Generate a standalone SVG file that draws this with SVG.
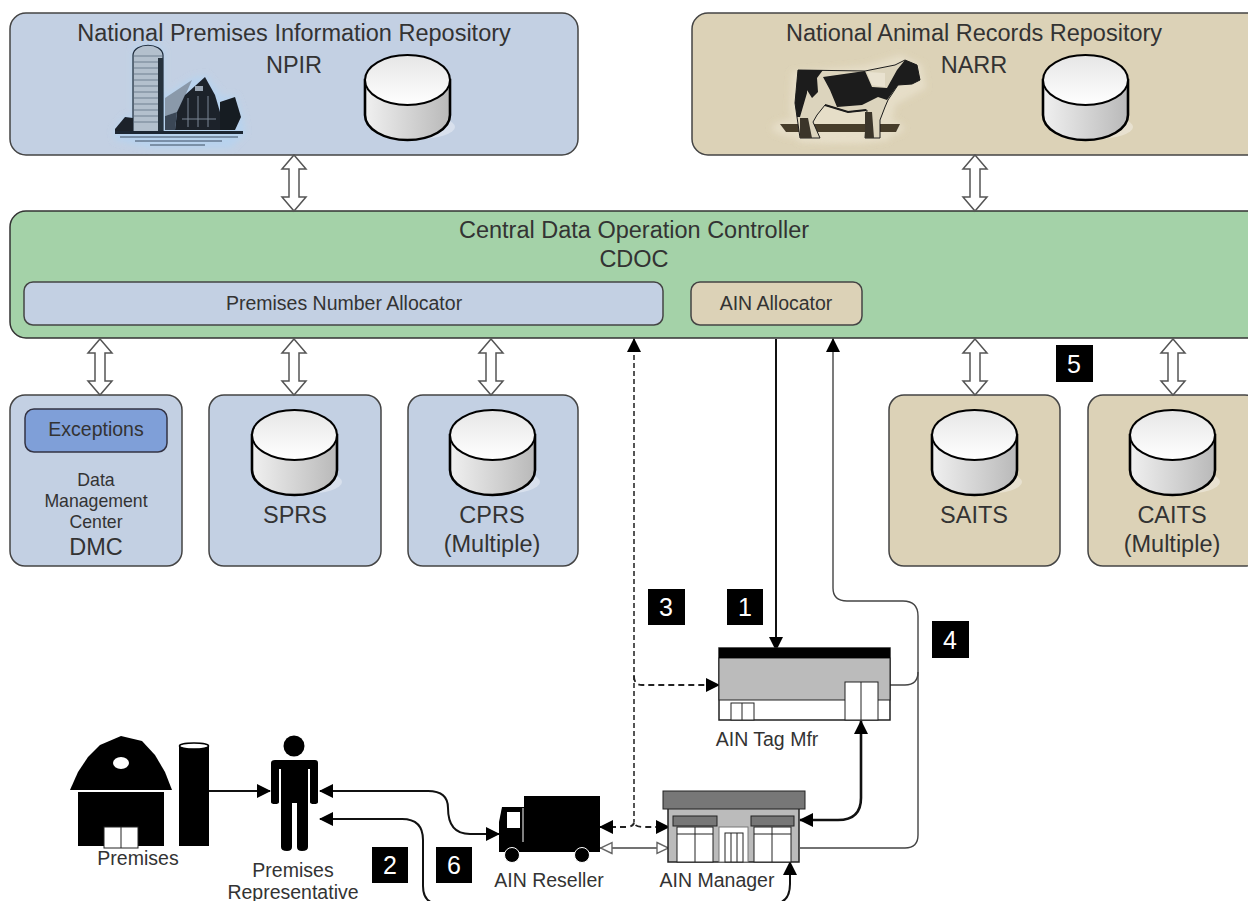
<svg xmlns="http://www.w3.org/2000/svg" width="1248" height="901" viewBox="0 0 1248 901">
<style>
text{font-family:"Liberation Sans",Arial,sans-serif;fill:#333;text-anchor:middle}
.blue{fill:#c3d0e3;stroke:#444;stroke-width:1.5}
.tan{fill:#dcd2b7;stroke:#444;stroke-width:1.5}
.green{fill:#a4d2a8;stroke:#333;stroke-width:1.5}
.big{font-size:23.5px}
.mid{font-size:19.5px}
.dm{font-size:17.7px}
.lab{font-size:19.5px}
.store{font-size:23.5px}
.num rect{fill:#000}
.num text{fill:#fff;font-size:25px}
.c{fill:none;stroke:#111;stroke-width:2}
.cb{fill:none;stroke:#111;stroke-width:2.6}
.cg{fill:none;stroke:#444;stroke-width:1.4}
.d{fill:none;stroke:#222;stroke-width:1.8;stroke-dasharray:6 4}
.dg{fill:none;stroke:#555;stroke-width:2;stroke-dasharray:5 3}
</style>
<defs>
<linearGradient id="side" x1="0" y1="0" x2="1" y2="0"><stop offset="0" stop-color="#f0f0f0"/><stop offset="1" stop-color="#b9b9b9"/></linearGradient>
<linearGradient id="top" x1="0" y1="0" x2="0" y2="1"><stop offset="0" stop-color="#e6e6e6"/><stop offset="1" stop-color="#fff"/></linearGradient>
<filter id="soft" x="-10%" y="-10%" width="120%" height="120%"><feGaussianBlur stdDeviation="0.6"/></filter>
<filter id="halo" x="-20%" y="-20%" width="140%" height="140%"><feGaussianBlur stdDeviation="3"/></filter>
<g id="cyl">
<ellipse cx="52" cy="72" rx="38" ry="12" fill="#fff" opacity=".35"/>
<path d="M0 25V60C0 74 19 85 42.500 85S85 74 85 60V25Z" fill="url(#side)" stroke="#000" stroke-width="2.600"/>
<ellipse cx="42.500" cy="25" rx="42.500" ry="25" fill="url(#top)" stroke="#000" stroke-width="2"/>
</g>
<path id="dbl" d="M0 0L12 14H5V42H12L0 56L-12 42H-5V14H-12Z" fill="#fff" stroke="#555" stroke-width="1.500"/>
<marker id="a" markerWidth="14" markerHeight="14" refX="13" refY="7" orient="auto-start-reverse" markerUnits="userSpaceOnUse"><path d="M0 0L14 7L0 14Z" fill="#000"/></marker>
<marker id="o" markerWidth="14" markerHeight="14" refX="13" refY="7" orient="auto-start-reverse" markerUnits="userSpaceOnUse"><path d="M1 1.500L12.500 7L1 12.500Z" fill="#fff" stroke="#666" stroke-width="1.400"/></marker>
</defs>

<g id="npir">
<rect class="blue" x="10" y="13" width="568" height="142" rx="16"/>
<text class="big" x="294" y="41">National Premises Information Repository</text>
<text class="big" x="294" y="73">NPIR</text>
<g id="farm-picture" filter="url(#soft)">
<path d="M114 130L125 116L133 116V50C134 42 162 42 164 50V96L192 78L206 75L222 96L236 96L243 118L245 134L230 148L150 148L115 140Z" fill="#b8d3ee" filter="url(#halo)"/>
<path d="M133 55C134 42 162 42 163 55V132H133Z" fill="#b3c0cd" stroke="#1c2a3a" stroke-width="1.200"/>
<path d="M133 56H163M134 62H162M134 68H162M134 74H162M134 80H162M134 86H162M134 92H162M134 98H162M134 104H162M134 110H162M134 116H162M134 122H162" stroke="#55657a" stroke-width=".7"/>
<rect x="158" y="58" width="5" height="74" fill="#26303c"/>
<path d="M165 98L192 80L178 112L165 116Z" fill="#8a99aa"/>
<path d="M165 116L177 112L175 130H165Z" fill="#3b4656"/>
<path d="M175 130L177 112L185 95L205 77L215 95L220 112L220 130Z" fill="#1a202c"/>
<rect x="195" y="86" width="8" height="5" fill="#9aa6b4"/>
<path d="M188 98V127M198 96V127M208 96V127M182 119H216" stroke="#7d8794" stroke-width="1"/>
<path d="M220 130V102L235 97L241 117L235 130Z" fill="#161a22"/>
<path d="M115 129L125 117L133 118V132H115Z" fill="#1a202c"/>
<path d="M115 131H243V134H115Z" fill="#1c2532"/>
<path d="M120 137H238M135 141H222M150 145H205" stroke="#3c4c60" stroke-width="1"/>
</g>
<use href="#cyl" x="365" y="55"/>
</g>

<g id="narr">
<rect class="tan" x="692" y="13" width="570" height="142" rx="16"/>
<text class="big" x="974" y="41">National Animal Records Repository</text>
<text class="big" x="974" y="73">NARR</text>
<g id="cow-picture" filter="url(#soft)">
<ellipse cx="838" cy="128" rx="66" ry="13" fill="#e6dec8" filter="url(#halo)"/>
<path d="M792 72L865 66L900 55L922 65L926 88L895 105L888 140L860 143L800 142L790 110Z" fill="#e6dec8" filter="url(#halo)"/>
<path d="M780 124H900L896 132H786Z" fill="#463c2c"/>
<path d="M798 70L865 71L895 65L905 60L917 65L920 80L912 84L898 85L888 100L885 107L880 120L880 138H865L867 110L848 112L825 105L817 115L813 122L820 138H800L797 117L795 103Z" fill="#dcd4bd" stroke="#1c1c1c" stroke-width="1"/>
<path d="M798 70H808L807 93L800 117L797 117L795 103ZM808 70H823L817 78L818 92L812 98L807 90Z" fill="#1a1a1a"/>
<path d="M823 77L865 71L872 87L887 88L897 70L905 60L917 65L920 80L912 84L898 85L887 100L878 97L862 105L837 107L830 90Z" fill="#1a1a1a"/>
<path d="M867 72L885 73L885 87L872 85Z" fill="#e9e2d0"/>
<path d="M800 118L808 118L812 138H800ZM865 112L872 112L874 138H865Z" fill="#3a352b"/>
<path d="M825 105L848 112L866 110" stroke="#1a1a1a" stroke-width="2" fill="none"/>
</g>
<use href="#cyl" x="1043" y="55"/>
</g>

<g id="cdoc">
<rect class="green" x="10" y="211" width="1252" height="127" rx="16"/>
<text class="big" x="634" y="238">Central Data Operation Controller</text>
<text class="big" x="634" y="267">CDOC</text>
</g>
<g id="premises-number-allocator">
<rect class="blue" x="24" y="282" width="639" height="43" rx="9"/>
<text class="mid" x="344" y="310">Premises Number Allocator</text>
</g>
<g id="ain-allocator">
<rect class="tan" x="691" y="282" width="171" height="43" rx="9"/>
<text class="mid" x="776" y="310">AIN Allocator</text>
</g>

<g id="dmc">
<rect class="blue" x="10" y="395" width="172" height="171" rx="15"/>
<rect x="25" y="409" width="142" height="43" rx="9" fill="#7f9fd8" stroke="#334" stroke-width="1.500"/>
<text class="mid" x="96" y="436">Exceptions</text>
<text class="dm" x="96" y="486">Data</text>
<text class="dm" x="96" y="507">Management</text>
<text class="dm" x="96" y="528">Center</text>
<text class="store" x="96" y="555">DMC</text>
</g>
<g id="sprs">
<rect class="blue" x="209" y="395" width="172" height="171" rx="15"/>
<use href="#cyl" x="252" y="410"/>
<text class="store" x="295" y="523">SPRS</text>
</g>
<g id="cprs">
<rect class="blue" x="408" y="395" width="170" height="171" rx="15"/>
<use href="#cyl" x="450" y="410"/>
<text class="store" x="492" y="523">CPRS</text>
<text class="store" x="492" y="552">(Multiple)</text>
</g>
<g id="saits">
<rect class="tan" x="889" y="395" width="171" height="171" rx="15"/>
<use href="#cyl" x="932" y="410"/>
<text class="store" x="974" y="523">SAITS</text>
</g>
<g id="caits">
<rect class="tan" x="1088" y="395" width="172" height="171" rx="15"/>
<use href="#cyl" x="1130" y="410"/>
<text class="store" x="1172" y="523">CAITS</text>
<text class="store" x="1172" y="552">(Multiple)</text>
</g>

<g id="connectors">
<use href="#dbl" x="294" y="155"/>
<use href="#dbl" x="975" y="155"/>
<use href="#dbl" x="100" y="339"/>
<use href="#dbl" x="294" y="339"/>
<use href="#dbl" x="491" y="339"/>
<use href="#dbl" x="975" y="339"/>
<use href="#dbl" x="1173" y="339"/>
<path class="c" d="M776 339V650" marker-end="url(#a)"/>
<path class="dg" d="M634 339V822" marker-start="url(#a)"/>
<path class="d" d="M634 676Q634 685 642 685H719" marker-end="url(#a)"/>
<path class="d" d="M600 827H626Q634 827 634 822Q634 827 644 827H669" marker-start="url(#a)" marker-end="url(#a)"/>
<path class="cg" d="M800 848H905Q918 848 918 835V616Q918 601 903 601H847Q833 601 833 588V339" marker-end="url(#a)"/>
<path class="cg" d="M890 685H905Q918 685 918 672"/>
<path class="cb" d="M861 721V798Q861 820 838 820H800" marker-start="url(#a)" marker-end="url(#a)"/>
<path class="cg" d="M600 848H669" marker-start="url(#o)" marker-end="url(#o)"/>
<path class="c" d="M208 791H270" marker-end="url(#a)"/>
<path class="c" d="M320 791H428Q448 791 448 808Q448 834 470 834H499" marker-start="url(#a)" marker-end="url(#a)"/>
<path class="c" d="M320 819H402Q423 819 423 840V886Q423 904 440 904H772Q790 904 790 884V862" marker-start="url(#a)" marker-end="url(#a)"/>
</g>

<g id="premises">
<path d="M70 790L78 772L88 757L100 745L121 736L142 741L155 755L165 772L172 790Z" fill="#000"/>
<ellipse cx="121" cy="763" rx="8" ry="6" fill="#fff"/>
<rect x="78" y="792" width="86" height="54" fill="#000"/>
<rect x="104" y="827" width="34" height="21" fill="#fff" stroke="#222"/>
<path d="M121 827V848" stroke="#222"/>
<rect x="179" y="745" width="30" height="101" fill="#000"/>
<ellipse cx="194" cy="746" rx="14.500" ry="3" fill="#fff" stroke="#000" stroke-width="1.500"/>
<text class="lab" x="138" y="865">Premises</text>
</g>
<g id="premises-representative">
<circle cx="294" cy="746" r="10.500" fill="#000"/>
<path d="M275 760H315Q318 760 318 763V802Q318 804 314 804Q310 804 310 802V769H308V847Q308 851 302 851Q297 851 297 847V803H292V847Q292 851 287 851Q281 851 281 847V769H279V802Q279 804 275 804Q271 804 271 802V763Q271 760 275 760Z" fill="#000"/>
<text class="lab" x="293" y="877">Premises</text>
<text class="lab" x="293" y="899">Representative</text>
</g>
<g id="ain-reseller">
<rect x="524" y="796" width="76" height="56" fill="#000"/>
<path d="M502 807H524V852H499V822Z" fill="#000"/>
<rect x="507" y="812" width="13" height="16" fill="#fff"/>
<path d="M523 808V842" stroke="#fff" stroke-width="1"/>
<circle cx="512" cy="855" r="7.500" fill="#000" stroke="#fff"/>
<circle cx="582" cy="855" r="7.500" fill="#000" stroke="#fff"/>
<text class="lab" x="549" y="887">AIN Reseller</text>
</g>
<g id="ain-manager">
<rect x="668" y="808" width="131" height="54" fill="#bbb" stroke="#222" stroke-width="1.500"/>
<rect x="663" y="791" width="142" height="18" fill="#777" stroke="#222"/>
<rect x="673" y="816" width="44" height="10" fill="#777" stroke="#222"/>
<rect x="751" y="816" width="43" height="10" fill="#777" stroke="#222"/>
<rect x="677" y="827" width="36" height="35" fill="#fff" stroke="#222"/>
<rect x="754" y="827" width="37" height="35" fill="#fff" stroke="#222"/>
<path d="M695 827V862M772 827V862M677 834H713M754 834H791" stroke="#222" fill="none"/>
<rect x="719" y="827" width="29" height="35" fill="#fff" stroke="#777"/>
<rect x="725" y="833" width="18" height="29" fill="#fff" stroke="#222"/>
<path d="M731 833V862M737 833V862" stroke="#222"/>
<text class="lab" x="717" y="887">AIN Manager</text>
</g>
<g id="ain-tag-mfr">
<rect x="719" y="648" width="171" height="72" fill="#fff" stroke="#222" stroke-width="1.500"/>
<rect x="719" y="658" width="171" height="42" fill="#bbb" stroke="#222" stroke-width="1"/>
<rect x="719" y="648" width="171" height="10" fill="#000"/>
<rect x="731" y="703" width="23" height="17" fill="#fff" stroke="#222"/>
<path d="M742 703V720" stroke="#222"/>
<rect x="845" y="682" width="33" height="38" fill="#fff" stroke="#222"/>
<path d="M861 682V720" stroke="#222"/>
<text class="lab" x="767" y="746">AIN Tag Mfr</text>
</g>

<g class="num" id="step-1"><rect x="727" y="589" width="36" height="36"/><text x="745" y="616">1</text></g>
<g class="num" id="step-2"><rect x="372" y="847" width="36" height="36"/><text x="390" y="874">2</text></g>
<g class="num" id="step-3"><rect x="648" y="589" width="37" height="36"/><text x="666" y="616">3</text></g>
<g class="num" id="step-4"><rect x="932" y="621" width="37" height="37"/><text x="950" y="649">4</text></g>
<g class="num" id="step-5"><rect x="1056" y="345" width="37" height="37"/><text x="1074" y="373">5</text></g>
<g class="num" id="step-6"><rect x="436" y="847" width="36" height="36"/><text x="454" y="874">6</text></g>
</svg>
